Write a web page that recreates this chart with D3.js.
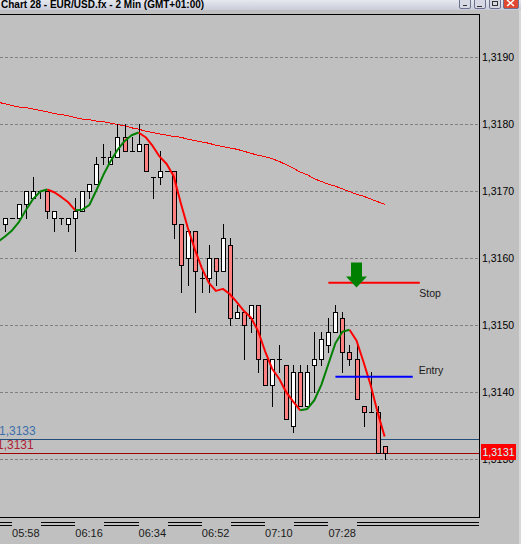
<!DOCTYPE html>
<html><head><meta charset="utf-8">
<script src="https://cdn.jsdelivr.net/npm/d3@7"></script>
<style>
html,body{margin:0;padding:0;background:#C0C0C0;overflow:hidden}
svg{display:block}
text{font-family:"Liberation Sans",Arial,sans-serif}
</style></head><body>
<svg id="c" width="521" height="544"></svg>
<script>
// ---------- DATA ----------
const times = ["05:54","05:56","05:58","06:00","06:02","06:04","06:06","06:08","06:10","06:12","06:14","06:16","06:18","06:20","06:22","06:24","06:26","06:28","06:30","06:32","06:34","06:36","06:38","06:40","06:42","06:44","06:46","06:48","06:50","06:52","06:54","06:56","06:58","07:00","07:02","07:04","07:06","07:08","07:10","07:12","07:14","07:16","07:18","07:20","07:22","07:24","07:26","07:28","07:30","07:32","07:34","07:36","07:38","07:40","07:42","07:44"];
const open  = [null,1.3165,1.3166,1.3166,1.3168,1.3169,1.3170,1.3170,1.3166,1.3166,1.3165,1.3166,1.3167,1.3170,1.3171,1.3175,1.3174,1.3175,1.3178,1.3176,1.3176,1.3177,1.3172,1.3172,1.3173,1.3173,1.3165,1.3160,1.3164,1.3157,1.3157,1.3160,1.3158,1.3162,1.3151,1.3152,1.3151,1.3153,1.3145,1.3141,1.3145,1.3144,1.3135,1.3143,1.3138,1.3144,1.3145,1.3147,1.3149,1.3151,1.3146,1.3145,1.3138,1.3137,1.3137,1.3132];
const high  = [null,1.3166,1.3166,1.3168,1.3170,1.3172,1.3170,1.3170,1.3167,1.3166,1.3166,1.3169,1.3170,1.3171,1.3175,1.3177,1.3176,1.3180,1.3180,1.3178,1.3180,1.3177,1.3172,1.3176,1.3173,1.3173,1.3165,1.3164,1.3164,1.3158,1.3162,1.3160,1.3165,1.3163,1.3153,1.3152,1.3153,1.3153,1.3145,1.3145,1.3147,1.3144,1.3144,1.3144,1.3144,1.3149,1.3149,1.3151,1.3153,1.3152,1.3147,1.3147,1.3138,1.3143,1.3138,1.3132];
const low   = [null,1.3164,1.3166,1.3166,1.3166,1.3169,1.3169,1.3166,1.3164,1.3165,1.3164,1.3161,1.3167,1.3169,1.3171,1.3174,1.3174,1.3175,1.3176,1.3176,1.3176,1.3173,1.3169,1.3171,1.3173,1.3163,1.3155,1.3156,1.3152,1.3155,1.3155,1.3156,1.3158,1.3150,1.3151,1.3145,1.3149,1.3143,1.3141,1.3138,1.3143,1.3136,1.3134,1.3138,1.3138,1.3140,1.3144,1.3146,1.3149,1.3143,1.3144,1.3139,1.3135,1.3137,1.3131,1.3130];
const close = [null,1.3166,1.3166,1.3168,1.3170,1.3170,1.3170,1.3167,1.3167,1.3166,1.3166,1.3167,1.3170,1.3171,1.3174,1.3175,1.3175,1.3178,1.3176,1.3176,1.3177,1.3173,1.3172,1.3173,1.3173,1.3165,1.3159,1.3164,1.3158,1.3157,1.3160,1.3158,1.3163,1.3151,1.3152,1.3150,1.3153,1.3145,1.3141,1.3145,1.3145,1.3136,1.3143,1.3138,1.3143,1.3145,1.3148,1.3149,1.3152,1.3146,1.3145,1.3139,1.3137,1.3137,1.3131,1.3131];
const slowMA = [1.31832,1.31830,1.31827,1.31825,1.31824,1.31822,1.31820,1.31818,1.31815,1.31814,1.31812,1.31809,1.31807,1.31806,1.31804,1.31803,1.31801,1.31799,1.31797,1.31794,1.31792,1.31789,1.31787,1.31785,1.31783,1.31781,1.31780,1.31777,1.31775,1.31773,1.31771,1.31768,1.31766,1.31764,1.31762,1.31759,1.31756,1.31753,1.31751,1.31748,1.31744,1.31739,1.31734,1.31728,1.31724,1.31718,1.31714,1.31710,1.31707,1.31703,1.31699,1.31695,1.31692,1.31688,1.31684,1.31680];
const fastMA = [1.31624,1.31632,1.31641,1.31654,1.31672,1.31688,1.31699,1.31702,1.31698,1.31691,1.31683,1.31671,1.31672,1.31679,1.31701,1.31724,1.31744,1.31761,1.31774,1.31783,1.31787,1.31780,1.31767,1.31751,1.31740,1.31722,1.31682,1.31645,1.31613,1.31585,1.31563,1.31551,1.31554,1.31546,1.31534,1.31521,1.31511,1.31491,1.31461,1.31435,1.31420,1.31400,1.31386,1.31373,1.31375,1.31388,1.31411,1.31442,1.31473,1.31490,1.31493,1.31477,1.31445,1.31411,1.31370,1.31334];
const fastUpSpans = [[0,7],[11,20],[43,50]];
const priceTicks = [1.3190,1.3180,1.3170,1.3160,1.3150,1.3140,1.3130];
const priceTickLabels = ["1,3190","1,3180","1,3170","1,3160","1,3150","1,3140","1,3130"];
const timeTickLabels = ["05:58","06:16","06:34","06:52","07:10","07:28"];
const title = "Chart 28 - EUR/USD.fx - 2 Min (GMT+01:00)";
const levelLines = [{price:1.3133, label:"1,3133"},{price:1.3131, label:"1,3131"}];
const stopLine = {price:1.31563, from:"07:28", to:"07:54", label:"Stop"};
const entryLine = {price:1.31423, from:"07:30", to:"07:52", label:"Entry"};
const signalArrow = {time:"07:36", price:1.31556};
const lastPrice = 1.3131, lastPriceLabel = "1,3131";

// ---------- LAYOUT ----------
const W = 521, H = 544;
const plotL = 0, plotR = 479, plotT = 14, plotB = 517;
const svg = d3.select("#c");
const idx = t => { const i = times.indexOf(t); return i >= 0 ? i : times.length - 1 + (toMin(t) - toMin(times[times.length-1]))/2; };
function toMin(t){ const [h,m]=t.split(":").map(Number); return h*60+m; }

const x = d3.scaleLinear().domain([0, 55]).range([-2.03, 384.62]);
const y = d3.scaleLinear().domain([1.3130, 1.3190]).range([459.3, 56.7]);
const Y = p => Math.round(y(p));

// background
svg.append("rect").attr("width",W).attr("height",H).attr("fill","#C0C0C0");

// title bar
const defs = svg.append("defs");
const lg = defs.append("linearGradient").attr("id","tb").attr("x1",0).attr("y1",0).attr("x2",0).attr("y2",1);
lg.append("stop").attr("offset","0").attr("stop-color","#E6E8EF");
lg.append("stop").attr("offset","1").attr("stop-color","#C9CCD8");
svg.append("rect").attr("x",0).attr("y",0).attr("width",W).attr("height",10).attr("fill","url(#tb)");
svg.append("text").attr("x",1).attr("y",7.5).attr("font-size",10).attr("font-weight","bold").attr("fill","#000").text(title);
const btns = [[459,470,"#D6D9E4"],[474,485,"#D6D9E4"],[489,500,"#D6D9E4"],[503,518,"#E0472E"]];
btns.forEach(b=>{
  svg.append("rect").attr("x",b[0]+0.5).attr("y",-2.5).attr("width",b[1]-b[0]).attr("height",11).attr("fill",b[2]).attr("stroke","#6A7090").attr("rx",1.5);
});
svg.append("line").attr("x1",463).attr("x2",467).attr("y1",5.5).attr("y2",5.5).attr("stroke","#333");
svg.append("line").attr("x1",477).attr("x2",482).attr("y1",6.5).attr("y2",6.5).attr("stroke","#333");
svg.append("rect").attr("x",492.5).attr("y",1.5).attr("width",5).attr("height",4).attr("fill","none").attr("stroke","#333");
svg.append("path").attr("d","M507,0 L514,6 M514,0 L507,6").attr("stroke","#fff").attr("stroke-width",1.5);
svg.append("rect").attr("x",519).attr("y",10).attr("width",2).attr("height",H-10).attr("fill","#D8D8D8");

// clip
defs.append("clipPath").attr("id","pc").append("rect").attr("x",plotL).attr("y",plotT+1).attr("width",plotR-plotL).attr("height",plotB-plotT-1);
const plot = svg.append("g").attr("clip-path","url(#pc)");

// grid
plot.append("g").attr("shape-rendering","crispEdges").selectAll("line").data(priceTicks).join("line")
  .attr("x1",plotL).attr("x2",plotR).attr("y1",d=>Y(d)+0.5).attr("y2",d=>Y(d)+0.5)
  .attr("stroke","#808080").attr("stroke-dasharray","3,2");

// level lines
plot.append("line").attr("shape-rendering","crispEdges").attr("x1",0).attr("x2",plotR).attr("y1",Y(levelLines[0].price)+0.5).attr("y2",Y(levelLines[0].price)+0.5).attr("stroke","#1F4E7A");
plot.append("line").attr("shape-rendering","crispEdges").attr("x1",0).attr("x2",plotR).attr("y1",Y(levelLines[1].price)+0.5).attr("y2",Y(levelLines[1].price)+0.5).attr("stroke","#A00000");
plot.append("text").attr("x",-1).attr("y",Y(levelLines[0].price)-4).attr("font-size",12).attr("fill","#3C6EAA").text(levelLines[0].label);
plot.append("text").attr("x",-3).attr("y",Y(levelLines[1].price)-4.5).attr("font-size",12).attr("fill","#B02030").text(levelLines[1].label);

// slow MA
plot.append("path").datum(slowMA).attr("fill","none").attr("stroke","#FF0000").attr("stroke-width",1)
  .attr("shape-rendering","crispEdges")
  .attr("d",d3.line().x((d,i)=>x(i)).y(d=>y(d)));

// candles
const bars = times.map((t,i)=>({i,t,o:open[i],h:high[i],l:low[i],c:close[i]})).filter(d=>d.o!=null);
const cg = plot.append("g").attr("shape-rendering","crispEdges");
cg.selectAll("line.wick").data(bars).join("line").attr("class","wick")
  .attr("x1",d=>Math.round(x(d.i))+0.5).attr("x2",d=>Math.round(x(d.i))+0.5)
  .attr("y1",d=>Y(d.h)).attr("y2",d=>Y(d.l)+1).attr("stroke","#000");
cg.selectAll("rect.body").data(bars.filter(d=>Y(d.o)!==Y(d.c))).join("rect").attr("class","body")
  .attr("x",d=>Math.round(x(d.i))-1.5).attr("width",4)
  .attr("y",d=>Y(Math.max(d.o,d.c))+0.5).attr("height",d=>Y(Math.min(d.o,d.c))-Y(Math.max(d.o,d.c)))
  .attr("fill",d=>d.c>d.o?"#FFFFFF":"#FF8080").attr("stroke","#000");
cg.selectAll("line.doji").data(bars.filter(d=>Y(d.o)===Y(d.c))).join("line").attr("class","doji")
  .attr("x1",d=>Math.round(x(d.i))-2).attr("x2",d=>Math.round(x(d.i))+3)
  .attr("y1",d=>Y(d.o)+0.5).attr("y2",d=>Y(d.o)+0.5).attr("stroke","#000");

// fast MA, coloured
const fl = d3.line().x(d=>x(d.i)).y(d=>y(d.v));
const fpts = fastMA.map((v,i)=>({i,v}));
const redSpans = [];
let prev = 0;
fastUpSpans.forEach(s=>{ if (s[0]>prev) redSpans.push([prev,s[0]]); prev = s[1]; });
if (prev < fastMA.length-1) redSpans.push([prev, fastMA.length-1]);
const fg = plot.append("g").attr("fill","none").attr("stroke-width",2).attr("stroke-linejoin","round");
fg.selectAll("path.r").data(redSpans).join("path").attr("class","r").attr("stroke","#FF0000")
  .attr("d",s=>fl(fpts.slice(s[0],s[1]+1)));
fg.selectAll("path.g").data(fastUpSpans).join("path").attr("class","g").attr("stroke","#008000")
  .attr("d",s=>fl(fpts.slice(s[0],s[1]+1)));

// stop / entry
plot.append("line").attr("x1",x(idx(stopLine.from))).attr("x2",x(idx(stopLine.to))).attr("y1",y(stopLine.price)).attr("y2",y(stopLine.price)).attr("stroke","#FF0000").attr("stroke-width",2);
plot.append("text").attr("x",x(idx(stopLine.to))-0.5).attr("y",y(stopLine.price)+14).attr("font-size",10.5).attr("fill","#1a1a1a").text(stopLine.label);
plot.append("line").attr("x1",x(idx(entryLine.from))).attr("x2",x(idx(entryLine.to))).attr("y1",y(entryLine.price)).attr("y2",y(entryLine.price)).attr("stroke","#0000FF").attr("stroke-width",2);
plot.append("text").attr("x",x(idx(entryLine.to))+6).attr("y",y(entryLine.price)-2.5).attr("font-size",10.5).attr("fill","#1a1a1a").text(entryLine.label);

// arrow
const ax = x(idx(signalArrow.time)), ay = y(signalArrow.price);
plot.append("path").attr("fill","#008000")
  .attr("d",`M${ax},${ay} L${ax-10.5},${ay-11} L${ax-5.5},${ay-11} L${ax-5.5},${ay-25} L${ax+5.5},${ay-25} L${ax+5.5},${ay-11} L${ax+10.5},${ay-11} Z`);

// frame
const fr = svg.append("g").attr("shape-rendering","crispEdges").attr("stroke","#000");
fr.append("line").attr("x1",0).attr("x2",plotR+1).attr("y1",plotT+0.5).attr("y2",plotT+0.5);
fr.append("line").attr("x1",plotR+0.5).attr("x2",plotR+0.5).attr("y1",plotT).attr("y2",plotB+1);
fr.append("line").attr("x1",0).attr("x2",plotR+1).attr("y1",plotB+0.5).attr("y2",plotB+0.5);

// price axis
const pa = svg.append("g").attr("transform",`translate(${plotR},0)`)
  .call(d3.axisRight(y).tickValues(priceTicks).tickSize(0).tickPadding(3).tickFormat((d,i)=>priceTickLabels[i]));
pa.select(".domain").remove();
pa.selectAll("text").attr("font-size",10.5).attr("font-family","Liberation Sans, Arial, sans-serif").attr("fill","#000");

// last price box
svg.append("rect").attr("x",481).attr("y",Y(lastPrice)-9).attr("width",35).attr("height",16).attr("fill","#FF0000");
svg.append("text").attr("x",482.5).attr("y",Y(lastPrice)+3).attr("font-size",10.5).attr("fill","#C8FFFF").text(lastPriceLabel);

// time axis
const tIdx = timeTickLabels.map(t=>times.indexOf(t));
const ta = svg.append("g").attr("transform",`translate(0,${plotB})`)
  .call(d3.axisBottom(x).tickValues(tIdx).tickSize(0).tickPadding(0).tickFormat(i=>times[i]));
ta.select(".domain").remove();
ta.selectAll("text").attr("text-anchor","start").attr("dy",0).attr("y",19.5).attr("dx",-0.5)
  .attr("font-size",11).attr("font-family","Liberation Sans, Arial, sans-serif").attr("fill","#1a1a1a");
// separators
let segStart = 0;
const segs = [];
ta.selectAll("text").each(function(d){
  const lx = Math.round(x(d));
  const w = this.getComputedTextLength();
  segs.push([segStart, lx]);
  segStart = Math.round(lx + w + 1);
});
segs.push([segStart, plotR]);
const sg = svg.append("g").attr("shape-rendering","crispEdges").attr("stroke","#000");
segs.forEach(s=>{
  [522.5,525.5].forEach(yy=>sg.append("line").attr("x1",s[0]).attr("x2",s[1]).attr("y1",yy).attr("y2",yy));
});
</script>
</body></html>
